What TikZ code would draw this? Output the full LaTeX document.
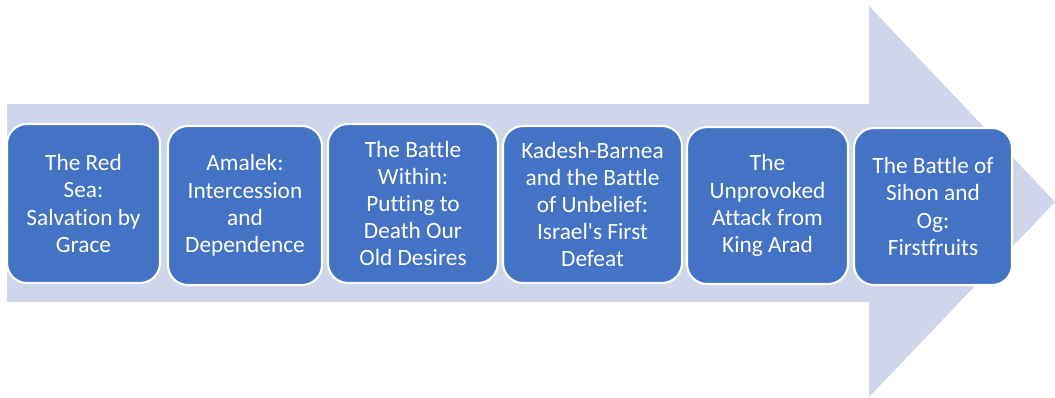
\documentclass[tikz,border=0pt]{standalone}
\usepackage{fontspec}
\newfontfamily\boxfont{Carlito}[Ligatures=NoCommon]
\definecolor{shaftblue}{RGB}{207,213,234}
\definecolor{boxblue}{RGB}{68,114,196}

\begin{document}
\begin{tikzpicture}[x=0.75pt,y=-0.75pt,
  stagebox/.style={draw=white,line width=1.6pt,fill=boxblue,rounded corners=15pt,
    inner sep=0pt,text=white,align=center,font=\boxfont\fontsize{17.5}{20.4}\selectfont}]

\useasboundingbox (0,0) rectangle (1055,397);
\fill[shaftblue] (7,104) -- (869,104) -- (869,6) -- (1055,202) -- (869,397) -- (869,302) -- (7,302) -- cycle;

\node[stagebox,minimum width=114.75pt,minimum height=119.25pt] (redsea) at (83.5,203.5) {The Red\\Sea:\\Salvation by\\Grace};
\node[stagebox,minimum width=115.5pt,minimum height=119.25pt] (amalek) at (245,205.5) {Amalek:\\Intercession\\and\\Dependence};
\node[stagebox,minimum width=127.5pt,minimum height=119.25pt] (within) at (413,203.5) {The Battle\\Within:\\Putting to\\Death Our\\Old Desires};
\node[stagebox,minimum width=134.25pt,minimum height=117.75pt] (kadesh) at (592.5,204.5) {Kadesh-Barnea\\and the Battle\\of Unbelief:\\Israel's First\\Defeat};
\node[stagebox,minimum width=120.75pt,minimum height=117.75pt] (arad) at (767.5,205.5) {The\\Unprovoked\\Attack from\\King Arad};
\node[stagebox,minimum width=118.5pt,minimum height=117.75pt] (sihon) at (933,206.5) {The Battle of\\Sihon and\\Og:\\Firstfruits};
\end{tikzpicture}
\end{document}
